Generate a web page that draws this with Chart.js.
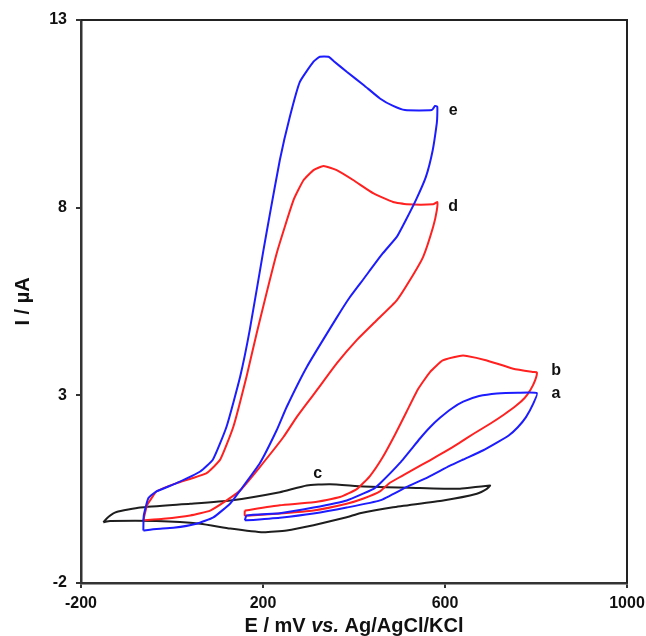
<!DOCTYPE html>
<html>
<head>
<meta charset="utf-8">
<script src="https://cdn.jsdelivr.net/npm/chart.js@4.4.1/dist/chart.umd.min.js"></script>
<style>
  html, body { margin: 0; padding: 0; background: #ffffff; }
  #wrap { width: 646px; height: 636px; position: relative; }
</style>
</head>
<body>
<div id="wrap"><canvas id="c" width="646" height="636"></canvas></div>
<script>
// ---- Data (E in mV vs. Ag/AgCl/KCl, I in µA) ----
// Curve e (blue, large loop)
const eE = [-63, -62, -52, -34, 10, 62, 90, 120, 150, 171, 201, 215, 237, 259, 281, 311, 325, 344, 355, 384, 421, 457, 486, 512, 571, 578, 583,
            583, 582, 573, 558, 536, 514, 494, 463, 421, 390, 361, 296, 252, 230, 193, 150, 128, 91, 54, 3, -34, -63];
const eI = [-0.60, -0.20, 0.26, 0.44, 0.66, 0.97, 1.29, 2.17, 3.51, 4.75, 6.87, 7.82, 9.27, 10.42, 11.35, 11.89, 12.02, 12.02, 11.91, 11.62, 11.27, 10.91, 10.71, 10.60, 10.60, 10.71, 10.69,
            10.45, 10.25, 9.53, 8.82, 8.20, 7.67, 7.22, 6.78, 6.10, 5.60, 5.05, 3.75, 2.69, 2.07, 1.19, 0.47, 0.12, -0.25, -0.42, -0.53, -0.56, -0.60];

// Curve d (red, large loop)
const dE = [-63, -55, -45, -34, 10, 76, 106, 135, 164, 186, 230, 267, 289, 311, 333, 362, 399, 443, 486, 516, 574, 583,
            582, 574, 552, 523, 494, 450, 406, 362, 318, 296, 274, 245, 193, 150, 120, 84, 40, -19, -63];
const dI = [-0.33, 0.07, 0.26, 0.44, 0.66, 0.93, 1.29, 2.17, 3.51, 4.65, 6.78, 8.20, 8.73, 9.00, 9.11, 9.00, 8.73, 8.38, 8.15, 8.09, 8.09, 8.15,
            7.93, 7.49, 6.69, 6.07, 5.53, 5.00, 4.47, 3.85, 3.13, 2.78, 2.42, 1.89, 1.09, 0.47, 0.20, -0.07, -0.20, -0.29, -0.33];

// Curve c (black)
const cE = [-151, -140, -122, -70, 40, 128, 237, 296, 347, 421, 523, 633, 699,
            692, 670, 596, 486, 413, 384, 311, 252, 201, 128, 62, -34, -136, -151];
const cI = [-0.38, -0.24, -0.11, 0.01, 0.11, 0.20, 0.42, 0.60, 0.63, 0.57, 0.54, 0.51, 0.60,
            0.51, 0.38, 0.20, 0.02, -0.14, -0.25, -0.46, -0.60, -0.65, -0.55, -0.42, -0.35, -0.35, -0.38];

// Curve b (red, small loop)
const bE = [160, 237, 311, 369, 406, 435, 463, 490, 515, 540, 567, 595, 632, 648, 692, 750, 794, 802,
            798, 788, 775, 756, 730, 700, 662, 630, 600, 567, 530, 479, 457, 421, 384, 311, 237, 172, 160, 160];
const bI = [-0.07, 0.07, 0.15, 0.29, 0.50, 0.85, 1.35, 1.95, 2.55, 3.15, 3.62, 3.93, 4.05, 4.05, 3.93, 3.71, 3.62, 3.61,
            3.40, 3.15, 2.93, 2.72, 2.49, 2.25, 1.97, 1.72, 1.50, 1.27, 1.02, 0.67, 0.44, 0.25, 0.11, -0.07, -0.15, -0.20, -0.20, -0.07];

// Curve a (blue, small loop)
const aE = [160, 164, 237, 311, 384, 443, 457, 501, 545, 567, 589, 615, 640, 675, 714, 760, 802,
            794, 778, 760, 740, 714, 683, 640, 610, 563, 516, 457, 384, 311, 237, 164, 160];
const aI = [-0.33, -0.20, -0.14, 0.01, 0.20, 0.51, 0.65, 1.20, 1.85, 2.15, 2.40, 2.65, 2.83, 2.98, 3.05, 3.07, 3.06,
            2.78, 2.42, 2.15, 1.93, 1.74, 1.53, 1.29, 1.12, 0.82, 0.56, 0.20, 0.01, -0.15, -0.26, -0.33, -0.33];

// Curve labels
const labelText = ['a', 'b', 'c', 'd', 'e'];
const labelE = [844, 844, 320, 618, 618];
const labelI = [2.93, 3.55, 0.80, 7.92, 10.47];

// Axis ticks
const xTicks = [-200, 200, 600, 1000];
const yTicks = [-2, 3, 8, 13];

// ---- Build ----
const toPts = (xs, ys) => xs.map((x, i) => ({ x: x, y: ys[i] }));
const BLUE = '#1c1cff';
const RED = '#ff2020';
const BLACK = '#1e1e1e';
const FONT = "'Liberation Sans', Arial, sans-serif";

function ds(label, xs, ys, color) {
  return {
    label: label,
    data: toPts(xs, ys),
    showLine: true,
    borderColor: color,
    backgroundColor: color,
    borderWidth: 2,
    pointRadius: 0,
    pointHoverRadius: 0,
    tension: 0.15,
    fill: false
  };
}

const framePlugin = {
  id: 'frame',
  afterDatasetsDraw(chart) {
    const { ctx, chartArea: a } = chart;
    ctx.save();
    ctx.strokeStyle = '#222';
    ctx.lineWidth = 2;
    ctx.beginPath();
    ctx.moveTo(a.left, a.top);
    ctx.lineTo(a.right, a.top);
    ctx.lineTo(a.right, a.bottom);
    ctx.stroke();
    ctx.restore();
  }
};

const labelPlugin = {
  id: 'curveLabels',
  afterDraw(chart) {
    const { ctx, scales } = chart;
    ctx.save();
    ctx.fillStyle = '#111';
    ctx.font = 'bold 16px ' + FONT;
    ctx.textAlign = 'center';
    ctx.textBaseline = 'alphabetic';
    labelText.forEach((t, i) => {
      ctx.fillText(t, scales.x.getPixelForValue(labelE[i]), scales.y.getPixelForValue(labelI[i]));
    });
    const a = chart.chartArea;
    const parts = [
      { t: 'E / mV ', f: 'bold 20px ' + FONT },
      { t: 'vs.', f: 'italic bold 20px ' + FONT },
      { t: ' Ag/AgCl/KCl', f: 'bold 20px ' + FONT }
    ];
    let total = 0;
    parts.forEach(p => { ctx.font = p.f; p.w = ctx.measureText(p.t).width; total += p.w; });
    let x = (a.left + a.right) / 2 - total / 2;
    ctx.textAlign = 'left';
    parts.forEach(p => { ctx.font = p.f; ctx.fillText(p.t, x, 632); x += p.w; });
    ctx.save();
    ctx.translate(29, (a.top + a.bottom) / 2);
    ctx.rotate(-Math.PI / 2);
    ctx.font = 'bold 20px ' + FONT;
    ctx.textAlign = 'center';
    ctx.fillText('I / µA', 0, 0);
    ctx.restore();
    ctx.restore();
  }
};

new Chart(document.getElementById('c'), {
  type: 'scatter',
  data: {
    datasets: [
      ds('a', aE, aI, BLUE),
      ds('e', eE, eI, BLUE),
      ds('b', bE, bI, RED),
      ds('d', dE, dI, RED),
      ds('c', cE, cI, BLACK)
    ]
  },
  options: {
    responsive: false,
    animation: false,
    events: [],
    layout: { padding: { left: 0, top: 20, right: 19, bottom: 0 } },
    plugins: { legend: { display: false }, tooltip: { enabled: false }, title: { display: false } },
    scales: {
      x: {
        type: 'linear',
        min: -200, max: 1000,
        afterBuildTicks: s => { s.ticks = xTicks.map(v => ({ value: v })); },
        afterFit: s => { s.height = 53; s.paddingRight = 0; },
        ticks: { color: '#111', font: { family: FONT, size: 16, weight: 'bold' }, padding: 6, maxRotation: 0,
                 callback: v => String(v) },
        grid: { drawOnChartArea: false, drawTicks: true, tickLength: 5, color: '#333', lineWidth: 2 },
        border: { display: true, color: '#333', width: 2.5 },
        title: { display: false }
      },
      y: {
        type: 'linear',
        min: -2, max: 13,
        afterBuildTicks: s => { s.ticks = yTicks.map(v => ({ value: v })); },
        afterFit: s => { s.width = 81; },
        ticks: { color: '#111', font: { family: FONT, size: 16, weight: 'bold' }, padding: 9,
                 callback: v => String(v) },
        grid: { drawOnChartArea: false, drawTicks: true, tickLength: 5, color: '#333', lineWidth: 2 },
        border: { display: true, color: '#333', width: 2.5 },
        title: { display: false }
      }
    }
  },
  plugins: [framePlugin, labelPlugin]
});
</script>
</body>
</html>
